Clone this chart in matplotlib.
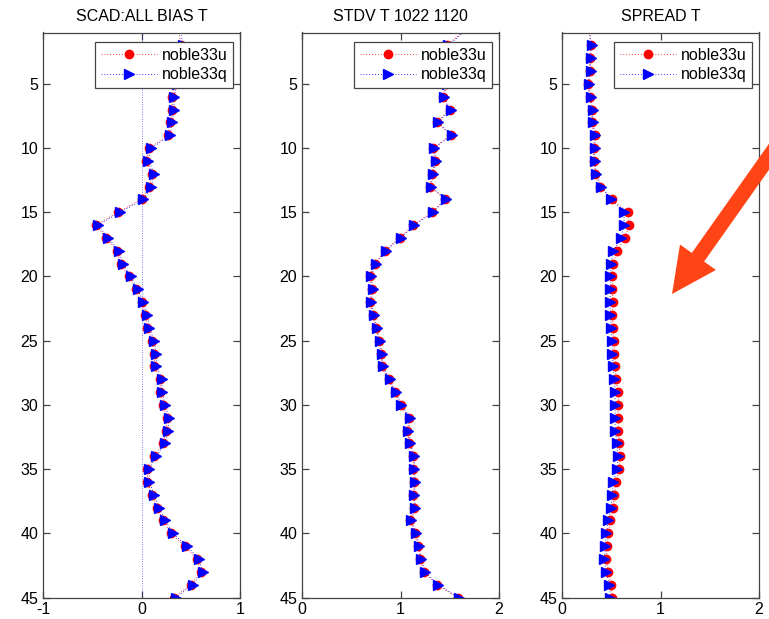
import numpy as np
import matplotlib
matplotlib.use("Agg")
import matplotlib.pyplot as plt
from matplotlib.patches import FancyArrow

plt.rcParams["font.family"] = ["Liberation Sans", "DejaVu Sans"]
plt.rcParams["axes.unicode_minus"] = False

# model levels, top of the profile first
levels = np.arange(1, 46)

bias_u = [0.38, 0.40, 0.41, 0.38, 0.34, 0.31, 0.31, 0.29, 0.27, 0.08,
          0.05, 0.11, 0.08, 0.00, -0.24, -0.46, -0.36, -0.25, -0.21, -0.13,
          -0.06, 0.00, 0.04, 0.06, 0.11, 0.13, 0.13, 0.19, 0.19, 0.22,
          0.26, 0.25, 0.22, 0.13, 0.06, 0.06, 0.11, 0.16, 0.22, 0.30,
          0.44, 0.56, 0.60, 0.50, 0.33]
bias_q = [0.40, 0.42, 0.43, 0.40, 0.36, 0.33, 0.33, 0.31, 0.29, 0.10,
          0.07, 0.13, 0.10, 0.02, -0.22, -0.44, -0.34, -0.23, -0.19, -0.11,
          -0.04, 0.02, 0.06, 0.08, 0.13, 0.15, 0.15, 0.21, 0.21, 0.24,
          0.28, 0.27, 0.24, 0.15, 0.08, 0.08, 0.13, 0.18, 0.24, 0.32,
          0.46, 0.58, 0.62, 0.52, 0.35]

stdv_u = [1.63, 1.47, 1.44, 1.49, 1.46, 1.43, 1.50, 1.37, 1.51, 1.33,
          1.35, 1.32, 1.30, 1.45, 1.32, 1.13, 0.99, 0.84, 0.74, 0.69,
          0.71, 0.69, 0.72, 0.75, 0.78, 0.80, 0.81, 0.88, 0.94, 1.00,
          1.09, 1.07, 1.09, 1.13, 1.13, 1.14, 1.13, 1.14, 1.10, 1.15,
          1.18, 1.20, 1.24, 1.37, 1.58]
stdv_q = [1.64, 1.48, 1.45, 1.50, 1.47, 1.44, 1.51, 1.38, 1.52, 1.34,
          1.36, 1.33, 1.31, 1.46, 1.33, 1.14, 1.00, 0.85, 0.75, 0.70,
          0.72, 0.70, 0.73, 0.76, 0.79, 0.81, 0.82, 0.89, 0.95, 1.01,
          1.10, 1.08, 1.10, 1.14, 1.14, 1.15, 1.14, 1.15, 1.11, 1.16,
          1.19, 1.21, 1.25, 1.38, 1.59]

spread_u = [0.28, 0.29, 0.28, 0.28, 0.26, 0.28, 0.30, 0.30, 0.33, 0.32,
            0.32, 0.34, 0.39, 0.51, 0.67, 0.68, 0.64, 0.56, 0.52, 0.51,
            0.51, 0.52, 0.51, 0.52, 0.53, 0.53, 0.54, 0.55, 0.57, 0.57,
            0.57, 0.57, 0.58, 0.59, 0.58, 0.55, 0.53, 0.52, 0.49, 0.47,
            0.46, 0.45, 0.47, 0.50, 0.51]
spread_q = [0.28, 0.30, 0.29, 0.29, 0.27, 0.29, 0.31, 0.31, 0.34, 0.33,
            0.33, 0.35, 0.40, 0.50, 0.63, 0.63, 0.60, 0.52, 0.50, 0.49,
            0.49, 0.49, 0.49, 0.50, 0.51, 0.51, 0.52, 0.53, 0.54, 0.54,
            0.54, 0.54, 0.56, 0.57, 0.56, 0.52, 0.51, 0.50, 0.47, 0.45,
            0.44, 0.43, 0.45, 0.48, 0.49]

titles = ["SCAD:ALL BIAS T", "STDV T 1022 1120", "SPREAD T"]
series_names = ["noble33u", "noble33q"]

frame_color = "#444444"
dots = (0, (1, 2.5))


def draw_panel(ax,
               u,
               q,
               title,
               xlim,
               xticks,
               zero_line = False):

    if zero_line:
        ax.axvline(0, color = "blue", linestyle = dots, linewidth = 0.5)

    ax.plot(u, levels, color = "red", linestyle = dots, linewidth = 0.6,
            marker = "o", markersize = 6, markevery = slice(1, None),
            label = series_names[0])
    ax.plot(q, levels, color = "blue", linestyle = dots, linewidth = 0.6,
            marker = ">", markersize = 7, markevery = slice(1, None),
            label = series_names[1])

    ax.set_xlim(xlim)
    ax.set_xticks(xticks)
    ax.set_ylim(45, 1)
    ax.set_yticks(range(5, 46, 5))

    ax.tick_params(direction = "in", length = 5, width = 0.9,
                   top = True, right = True, color = frame_color,
                   labelcolor = "black", labelsize = 11.5, pad = 3.5)
    for spine in ax.spines.values():
        spine.set_color(frame_color)
        spine.set_linewidth(0.9)

    ax.set_title(title, fontsize = 11.5, pad = 8)

    leg = ax.legend(loc = "upper right",
                    bbox_to_anchor = (0.965, 0.983),
                    borderaxespad = 0,
                    fancybox = False,
                    framealpha = 1,
                    edgecolor = frame_color,
                    fontsize = 11.5,
                    handlelength = 3.5,
                    handletextpad = 0.3,
                    borderpad = 0.35,
                    labelspacing = 0.3)
    leg.get_frame().set_linewidth(0.9)


fig = plt.figure(figsize = (7.69, 6.19), dpi = 100)

panel_left = [43, 302, 562]
panel_width = 197
for i in range(3):
    ax = fig.add_axes([panel_left[i] / 769, 21.5 / 619,
                       panel_width / 769, 565 / 619])
    if i == 0:
        draw_panel(ax, bias_u, bias_q, titles[0], (-1, 1), [-1, 0, 1],
                   zero_line = True)
    elif i == 1:
        draw_panel(ax, stdv_u, stdv_q, titles[1], (0, 2), [0, 1, 2])
    else:
        draw_panel(ax, spread_u, spread_q, titles[2], (0, 2), [0, 1, 2])

# pointer arrow laid over the whole figure, in pixel units
over = fig.add_axes([0, 0, 1, 1], zorder = 10)
over.set_xlim(0, 769)
over.set_ylim(619, 0)
over.set_axis_off()
over.add_patch(FancyArrow(790, 127, -118, 167,
                          width = 15, head_width = 44, head_length = 45,
                          length_includes_head = True,
                          color = "#FF4515", linewidth = 0))

fig.savefig("out.png", dpi = 100)
